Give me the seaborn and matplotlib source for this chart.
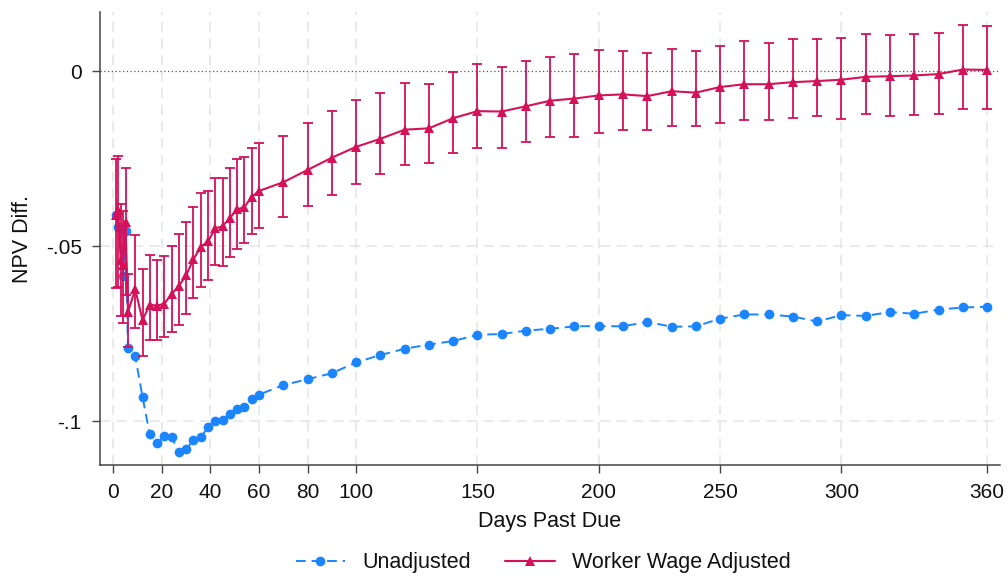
import numpy as np
import pandas as pd
import matplotlib
matplotlib.use("Agg")
import matplotlib.pyplot as plt
import seaborn as sns

# jours de retard
days = [1, 2, 3, 4, 5, 6, 9, 12, 15, 18, 21, 24, 27, 30, 33, 36, 39, 42, 45, 48,
        51, 54, 57, 60, 70, 80, 90, 100, 110, 120, 130, 140, 150, 160, 170, 180,
        190, 200, 210, 220, 230, 240, 250, 260, 270, 280, 290, 300, 310, 320,
        330, 340, 350, 360]

unadjusted = [-0.0411, -0.0446, -0.0450, -0.0586, -0.0456, -0.0792, -0.0814, -0.0931,
              -0.1037, -0.1062, -0.1043, -0.1045, -0.1088, -0.1080, -0.1054, -0.1045,
              -0.1018, -0.0999, -0.0997, -0.0980, -0.0966, -0.0959, -0.0937, -0.0924,
              -0.0897, -0.0880, -0.0863, -0.0832, -0.0811, -0.0793, -0.0781, -0.0771,
              -0.0753, -0.0751, -0.0741, -0.0736, -0.0729, -0.0728, -0.0729, -0.0716,
              -0.0730, -0.0729, -0.0707, -0.0695, -0.0695, -0.0701, -0.0715, -0.0697,
              -0.0699, -0.0688, -0.0693, -0.0681, -0.0675, -0.0673]

adjusted = [-0.0410, -0.0397, -0.0540, -0.0554, -0.0430, -0.0688, -0.0623, -0.0711,
            -0.0667, -0.0670, -0.0664, -0.0637, -0.0613, -0.0583, -0.0537, -0.0502,
            -0.0486, -0.0449, -0.0443, -0.0419, -0.0395, -0.0388, -0.0359, -0.0342,
            -0.0317, -0.0282, -0.0247, -0.0216, -0.0193, -0.0167, -0.0163, -0.0134,
            -0.0114, -0.0115, -0.0100, -0.0084, -0.0078, -0.0069, -0.0066, -0.0071,
            -0.0057, -0.0061, -0.0045, -0.0037, -0.0037, -0.0031, -0.0028, -0.0024,
            -0.0016, -0.0014, -0.0012, -0.0008, 0.0005, 0.0004]

adj_lo = [-0.0620, -0.0616, -0.0700, -0.0720, -0.0640, -0.0788, -0.0735, -0.0814,
          -0.0767, -0.0769, -0.0759, -0.0745, -0.0724, -0.0694, -0.0648, -0.0616,
          -0.0597, -0.0554, -0.0557, -0.0531, -0.0507, -0.0492, -0.0464, -0.0448,
          -0.0417, -0.0384, -0.0353, -0.0322, -0.0293, -0.0269, -0.0261, -0.0234,
          -0.0220, -0.0218, -0.0203, -0.0189, -0.0189, -0.0176, -0.0167, -0.0169,
          -0.0156, -0.0156, -0.0147, -0.0138, -0.0140, -0.0133, -0.0129, -0.0137,
          -0.0123, -0.0129, -0.0126, -0.0122, -0.0108, -0.0109]

adj_hi = [-0.0250, -0.0243, -0.0380, -0.0400, -0.0276, -0.0580, -0.0467, -0.0564,
          -0.0524, -0.0538, -0.0529, -0.0500, -0.0464, -0.0430, -0.0388, -0.0348,
          -0.0343, -0.0304, -0.0304, -0.0275, -0.0252, -0.0245, -0.0218, -0.0205,
          -0.0185, -0.0147, -0.0113, -0.0082, -0.0063, -0.0034, -0.0037, -0.0002,
          0.0021, 0.0012, 0.0030, 0.0040, 0.0048, 0.0060, 0.0058, 0.0051,
          0.0064, 0.0058, 0.0073, 0.0086, 0.0080, 0.0092, 0.0091, 0.0095,
          0.0107, 0.0104, 0.0106, 0.0109, 0.0132, 0.0129]

xticks = [0, 20, 40, 60, 80, 100, 150, 200, 250, 300, 360]
yticks = [0, -0.05, -0.1]
ytick_labels = ["0", "-.05", "-.1"]

blue = "#1A85FF"
red = "#D41159"

sns.set_theme(style="white")
plt.rcParams["font.family"] = ["Liberation Sans", "DejaVu Sans"]
plt.rcParams["text.color"] = "#111111"
plt.rcParams["axes.labelcolor"] = "#111111"
plt.rcParams["xtick.color"] = "#111111"
plt.rcParams["ytick.color"] = "#111111"

df = pd.DataFrame({"days": days, "unadj": unadjusted, "adj": adjusted,
                   "lo": adj_lo, "hi": adj_hi})

fig, ax = plt.subplots(figsize=(10.08, 5.78), dpi=100)
fig.subplots_adjust(left=0.099, right=0.992, top=0.979, bottom=0.195)

# grille pointillée façon Stata
for xt in xticks:
    ax.axvline(xt, color="#e6e6e6", lw=1.2, ls=(0, (6, 4)), zorder=0)
for yt in yticks[1:]:
    ax.axhline(yt, color="#e6e6e6", lw=1.2, ls=(0, (6, 4)), zorder=0)
ax.axhline(0, color="#555555", lw=0.9, ls=(0, (1, 2)), zorder=1)

sns.lineplot(data=df, x="days", y="unadj", ax=ax, color=blue, lw=1.4,
             linestyle=(0, (5, 3)), marker="o", markersize=7, markeredgewidth=0,
             label="Unadjusted", zorder=3)

yerr = np.array([df["adj"] - df["lo"], df["hi"] - df["adj"]])
ax.errorbar(df["days"], df["adj"], yerr=yerr, fmt="none", ecolor=red,
            elinewidth=1.3, capsize=3.3, capthick=1.3, zorder=4)
sns.lineplot(data=df, x="days", y="adj", ax=ax, color=red, lw=1.5,
             marker="^", markersize=7.5, markeredgewidth=0,
             label="Worker Wage Adjusted", zorder=5)

ax.set_xlim(-5.6, 365.3)
ax.set_ylim(-0.1126, 0.0169)
ax.set_xticks(xticks)
ax.set_xticklabels([str(t) for t in xticks], fontsize=15)
ax.set_yticks(yticks)
ax.set_yticklabels(ytick_labels, fontsize=15)
ax.tick_params(axis="both", direction="out", length=6, width=1, color="#444444",
               bottom=True, left=True, pad=7)
ax.set_xlabel("Days Past Due", fontsize=15.5, labelpad=6)
ax.set_ylabel("NPV Diff.", fontsize=15.5, labelpad=9)

for side in ["top", "right"]:
    ax.spines[side].set_visible(False)
for side in ["left", "bottom"]:
    ax.spines[side].set_color("#444444")
    ax.spines[side].set_linewidth(1.1)

handles, labels = ax.get_legend_handles_labels()
ax.get_legend().remove()
fig.legend(handles, labels, loc="lower center", ncol=2, frameon=False,
           fontsize=15.5, handlelength=2.3, columnspacing=1.6,
           bbox_to_anchor=(0.539, -0.025))

fig.savefig("out.png", dpi=100)
